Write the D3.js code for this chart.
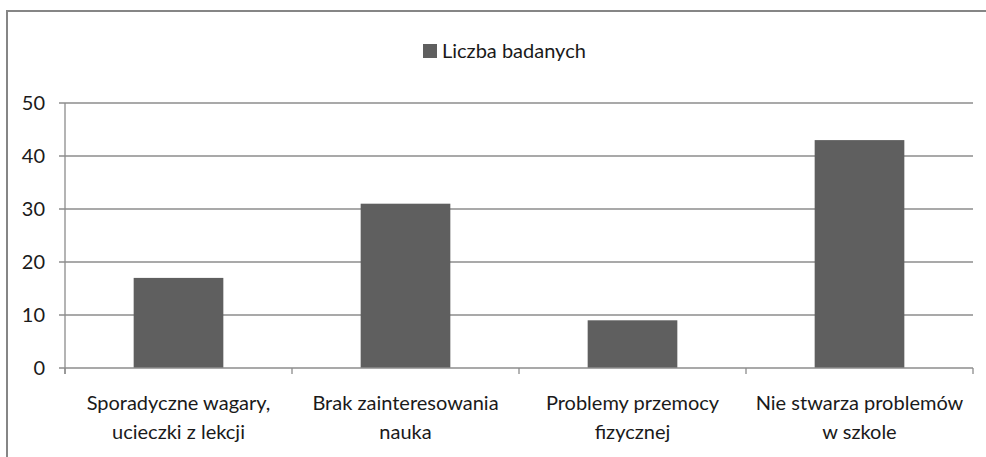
<!DOCTYPE html>
<html><head><meta charset="utf-8">
<script src="https://cdn.jsdelivr.net/npm/d3@7"></script>
<style>body{margin:0;background:#fff}svg{display:block}text{font-family:Lato,sans-serif;fill:#1a1a1a}</style>
</head><body><svg id="c" width="986" height="457"></svg>
<script>
const categories = [["Sporadyczne wagary,","ucieczki z lekcji"],["Brak zainteresowania","nauka"],["Problemy przemocy","fizycznej"],["Nie stwarza problemów","w szkole"]];
const values = [17, 31, 9, 43];
const yTicks = [0, 10, 20, 30, 40, 50];
const seriesName = "Liczba badanych";

const svg = d3.select("#c");
svg.append("rect").attr("x",7).attr("y",11).attr("width",990).attr("height",460)
  .attr("fill","none").attr("stroke","#868686").attr("stroke-width",2);

const x0 = 65, x1 = 973, yTop = 103, yBot = 368;
const x = d3.scaleBand().domain(d3.range(categories.length)).range([x0,x1]).padding(0);
const y = d3.scaleLinear().domain([0,50]).range([yBot,yTop]);
const barW = x.bandwidth()*0.395;

svg.append("g").selectAll("line").data(yTicks.filter(d=>d>0)).join("line")
  .attr("x1",x0-6).attr("x2",x1).attr("y1",d=>y(d)).attr("y2",d=>y(d))
  .attr("stroke","#8c8c8c").attr("stroke-width",1.3);
svg.append("line").attr("x1",x0).attr("x2",x0).attr("y1",yTop).attr("y2",yBot+6).attr("stroke","#8c8c8c").attr("stroke-width",1.3);
svg.append("g").selectAll("text").data(yTicks).join("text")
  .attr("x",45).attr("y",d=>y(d)).attr("dy","0.36em").attr("text-anchor","end")
  .style("font-size","20px").text(d=>d);

svg.append("g").selectAll("rect").data(values).join("rect")
  .attr("x",(d,i)=>x(i)+x.bandwidth()/2-barW/2).attr("width",barW)
  .attr("y",d=>y(d)).attr("height",d=>y(0)-y(d)).attr("fill","#5f5f5f");

svg.append("line").attr("x1",x0-6).attr("x2",x1).attr("y1",yBot).attr("y2",yBot).attr("stroke","#8c8c8c").attr("stroke-width",1.3);
svg.append("g").selectAll("line").data(d3.range(categories.length+1)).join("line")
  .attr("x1",i=>x0+i*x.step()).attr("x2",i=>x0+i*x.step()).attr("y1",yBot).attr("y2",yBot+6)
  .attr("stroke","#8c8c8c").attr("stroke-width",1.3);

const lab = svg.append("g").selectAll("text").data(categories).join("text")
  .attr("text-anchor","middle").style("font-size","20px");
lab.each(function(d,i){
  const t = d3.select(this);
  d.forEach((line,j)=>t.append("tspan").attr("x",x(i)+x.bandwidth()/2).attr("y",410+j*29).text(line));
});

svg.append("rect").attr("x",423).attr("y",44).attr("width",14).attr("height",14).attr("fill","#5f5f5f");
svg.append("text").attr("x",442).attr("y",58).style("font-size","20px").text(seriesName);
</script></body></html>
